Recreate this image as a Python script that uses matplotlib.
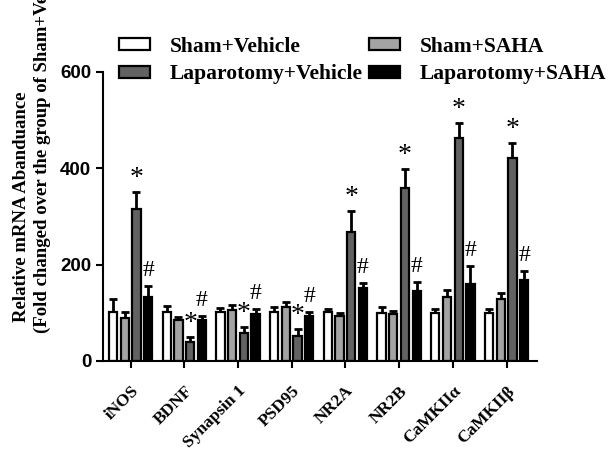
import matplotlib
matplotlib.use("Agg")
import matplotlib.pyplot as plt
import numpy as np

genes = ["iNOS", "BDNF", "Synapsin 1", "PSD95", "NR2A", "NR2B", "CaMKII\u03b1", "CaMKII\u03b2"]
groups = ["Sham+Vehicle", "Sham+SAHA", "Laparotomy+Vehicle", "Laparotomy+SAHA"]
sham_veh = [101, 101, 101, 101, 101, 100, 100, 100]
sham_veh_err = [27, 13, 9, 10, 6, 11, 8, 7]
sham_saha = [90, 84, 106, 111, 93, 97, 132, 128]
sham_saha_err = [11, 8, 10, 12, 6, 7, 15, 12]
lap_veh = [315, 39, 57, 52, 268, 359, 463, 420]
lap_veh_err = [36, 11, 14, 14, 43, 40, 31, 33]
lap_saha = [133, 84, 97, 93, 151, 146, 160, 168]
lap_saha_err = [22, 10, 10, 9, 11, 18, 37, 19]
yticks = [0, 200, 400, 600]

colors = ["#ffffff", "#a3a3a3", "#626262", "#000000"]
values = [sham_veh, sham_saha, lap_veh, lap_saha]
errors = [sham_veh_err, sham_saha_err, lap_veh_err, lap_saha_err]

serif = ["Liberation Serif", "DejaVu Serif"]
fig = plt.figure(figsize=(6.14, 4.54), dpi=100)
ax = fig.add_axes([0.168, 0.205, 0.706, 0.637])

x = np.arange(len(genes))
pitch = 0.218
width = 0.155
handles = []
for i, (vals, errs, col, lab) in enumerate(zip(values, errors, colors, groups)):
    pos = x + (i - 1.5) * pitch
    b = ax.bar(pos, vals, width=width, color=col, edgecolor="black", linewidth=1.6,
               label=lab, zorder=2)
    ax.errorbar(pos, vals, yerr=[np.zeros(len(vals)), errs], fmt="none",
                ecolor="black", elinewidth=2, capsize=3, capthick=2, zorder=1)
    handles.append(b)

# significance marks
for j in range(len(genes)):
    ax.text(x[j] + 0.5 * pitch, lap_veh[j] + lap_veh_err[j] + 28, "*",
            ha="center", va="center", fontsize=20, family=serif)
    ax.text(x[j] + 1.5 * pitch, lap_saha[j] + lap_saha_err[j] + 32, "#",
            ha="center", va="center", fontsize=17, family=serif)

ax.set_xlim(-0.51, 7.56)
ax.set_ylim(0, 600)
ax.set_yticks(yticks)
ax.set_yticklabels([str(t) for t in yticks], fontsize=13.5, fontweight="bold",
                   family="Liberation Sans")
ax.set_xticks(x)
ax.set_xticklabels(genes, rotation=45, ha="right", rotation_mode="anchor",
                   fontsize=12.5, fontweight="bold", family=serif)
for s in ["top", "right"]:
    ax.spines[s].set_visible(False)
for s in ["left", "bottom"]:
    ax.spines[s].set_linewidth(1.5)
ax.tick_params(axis="both", length=5, width=1.5)
ax.tick_params(axis="x", pad=11)

fig.text(22 / 614, 1 - 322 / 454, "Relative mRNA Abanduance", rotation=90,
         ha="center", va="bottom", fontsize=13.5, fontweight="bold", family=serif)
fig.text(42 / 614, 1 - 333 / 454, "(Fold changed over the group of Sham+Vehicle)",
         rotation=90, ha="center", va="bottom", fontsize=13.5, fontweight="bold",
         family=serif)

leg = fig.legend([handles[0], handles[2], handles[1], handles[3]],
                 [groups[0], groups[2], groups[1], groups[3]],
                 ncol=2, loc="upper left", bbox_to_anchor=(0.162, 0.962),
                 frameon=False, handlelength=1.45, handleheight=0.5,
                 columnspacing=0.3, handletextpad=0.9, labelspacing=0.36,
                 prop={"family": serif, "weight": "bold", "size": 15.5})

fig.savefig("out.png", dpi=100)
